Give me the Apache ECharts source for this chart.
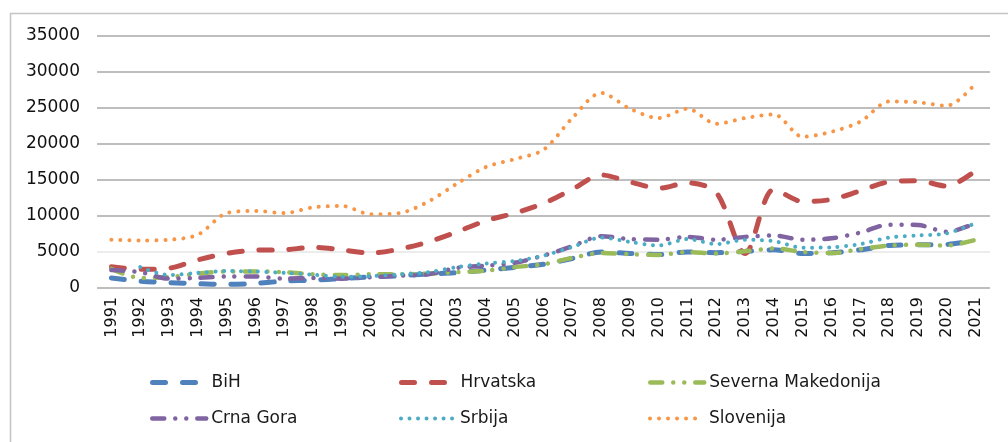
<!DOCTYPE html>
<html>
<head>
<meta charset="utf-8">
<script src="https://cdn.jsdelivr.net/npm/echarts@6/dist/echarts.min.js"></script>
<style>
html,body{margin:0;padding:0;background:#fff;}
#c{width:1008px;height:442px;}
</style>
</head>
<body>
<div id="c"></div>
<script>
const years = ['1991','1992','1993','1994','1995','1996','1997','1998','1999','2000','2001','2002','2003','2004','2005','2006','2007','2008','2009','2010','2011','2012','2013','2014','2015','2016','2017','2018','2019','2020','2021'];
const yTicks = [0, 5000, 10000, 15000, 20000, 25000, 30000, 35000];
const seriesNames = ['BiH', 'Hrvatska', 'Severna Makedonija', 'Crna Gora', 'Srbija', 'Slovenija'];
const bih = [1400, 950, 750, 600, 500, 650, 950, 1100, 1300, 1550, 1700, 1950, 2130, 2500, 2870, 3290, 4100, 5000, 4800, 4650, 5000, 4900, 5100, 5300, 4800, 4900, 5300, 5900, 6000, 6050, 6600];
const hrvatska = [2950, 2600, 2750, 3900, 4800, 5250, 5300, 5650, 5300, 4850, 5400, 6400, 7800, 9350, 10400, 11750, 13700, 15700, 14750, 13850, 14600, 13250, 4800, 13700, 12000, 12300, 13500, 14750, 14900, 14150, 16300];
const sevMak = [2650, 1400, 1500, 2000, 2300, 2300, 2200, 1900, 1800, 1900, 1900, 2000, 2200, 2400, 2900, 3300, 4200, 4850, 4700, 4600, 5000, 4800, 5100, 5500, 5000, 4850, 5400, 5900, 6000, 5900, 6700];
const crnaGora = [2500, 2200, 1300, 1400, 1600, 1600, 1300, 1400, 1300, 1500, 1700, 1900, 2800, 3100, 3500, 4500, 5800, 7200, 6800, 6700, 7100, 6700, 7100, 7300, 6700, 6900, 7700, 8800, 8750, 7800, 9000];
const srbija = [null, 2900, 1800, 2100, 2350, 2300, 2100, 1850, 1550, 1650, 1900, 2200, 2900, 3400, 3750, 4500, 5700, 7000, 6400, 5900, 6800, 6100, 6700, 6500, 5600, 5650, 6100, 7000, 7300, 7600, 9000];
const slovenija = [6700, 6600, 6700, 7400, 10400, 10700, 10400, 11200, 11400, 10250, 10400, 12000, 14500, 16800, 17900, 19200, 23600, 27100, 24900, 23600, 24900, 22800, 23600, 24100, 21000, 21700, 23100, 25900, 25800, 25300, 28400];

const colors = ['#4F81BD', '#C0504D', '#9BBB59', '#8064A2', '#4BACC6', '#F79646'];
const styles = [
  {width: 5, type: [13, 17]},
  {width: 5, type: [13, 17]},
  {width: 4.5, type: [12, 11, 0.01, 11, 0.01, 11]},
  {width: 4.5, type: [12, 11, 0.01, 11, 0.01, 11]},
  {width: 4, type: [0.01, 8.5]},
  {width: 4, type: [0.01, 9]}
];
const dataSets = [bih, hrvatska, sevMak, crnaGora, srbija, slovenija];

const chart = echarts.init(document.getElementById('c'), null, {renderer: 'canvas'});
const font = 'DejaVu Sans';
const legendPos = [[145, 369], [394, 369], [643, 369], [145, 405], [394, 405], [643, 405]];

const option = {
  backgroundColor: '#fff',
  animation: false,
  color: colors,
  graphic: [{
    type: 'rect', silent: true,
    shape: {x: 10.5, y: 13.5, width: 1100, height: 600},
    style: {fill: 'none', stroke: '#c4c4c4', lineWidth: 1.5}
  }],
  grid: {left: 97, right: 18, top: 36, bottom: 154, containLabel: false},
  legend: seriesNames.map((n, i) => ({
    data: [n], left: legendPos[i][0], top: legendPos[i][1],
    itemWidth: 54, itemHeight: 14,
    itemStyle: {opacity: 0},
    lineStyle: {color: colors[i], width: styles[i].width, type: styles[i].type, cap: 'round', opacity: 1},
    textStyle: {fontFamily: font, fontSize: 17, color: '#1a1a1a'}
  })),
  xAxis: {
    type: 'category', data: years, boundaryGap: true,
    axisLine: {show: false}, axisTick: {show: false},
    axisLabel: {rotate: 90, margin: 9, fontFamily: font, fontSize: 16, color: '#111', interval: 0}
  },
  yAxis: {
    type: 'value', min: yTicks[0], max: yTicks[yTicks.length - 1], interval: 5000,
    axisLine: {show: false}, axisTick: {show: false},
    axisLabel: {margin: 17, fontFamily: font, fontSize: 17, color: '#111', formatter: v => String(v)},
    splitLine: {lineStyle: {color: ['#a8a8a8', '#e6e6e6', '#a8a8a8', '#a8a8a8', '#a8a8a8', '#a8a8a8', '#a8a8a8', '#a8a8a8'], width: 1.5}}
  },
  series: seriesNames.map((n, i) => ({
    name: n, type: 'line', data: dataSets[i],
    smooth: 0.3, symbol: 'none', connectNulls: false,
    lineStyle: {color: colors[i], width: styles[i].width, type: styles[i].type, cap: 'round'},
    itemStyle: {color: colors[i]}
  }))
};
chart.setOption(option);
</script>
</body>
</html>
